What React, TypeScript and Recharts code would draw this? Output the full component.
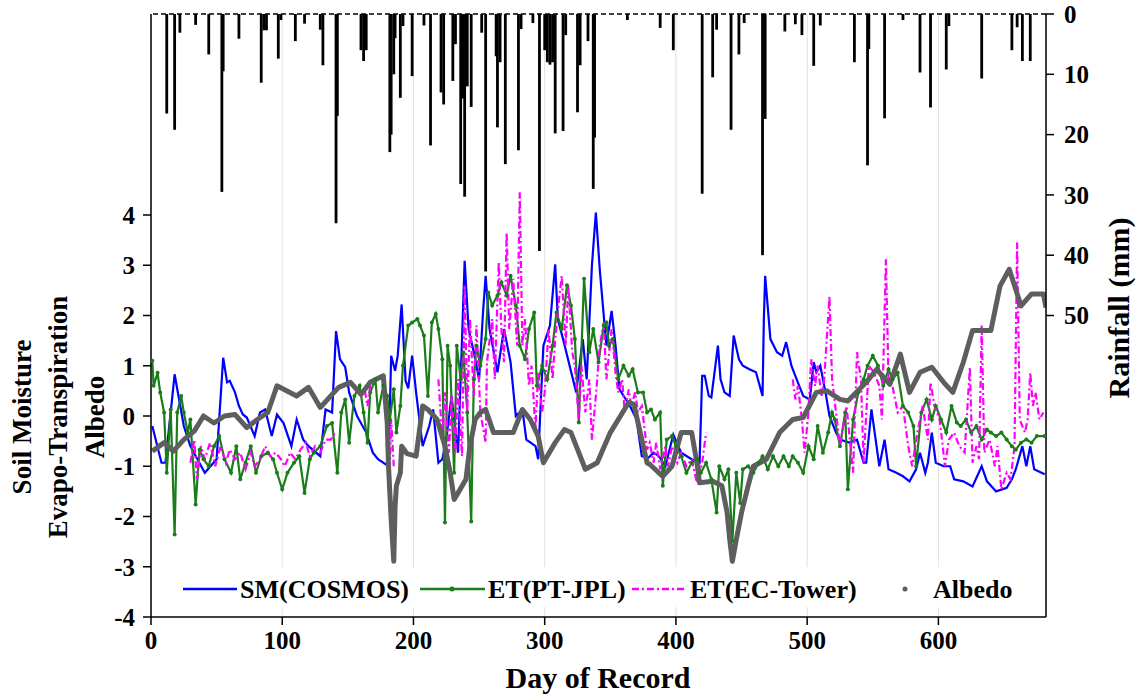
import { ComposedChart, Line, Scatter, XAxis, YAxis, CartesianGrid, ReferenceLine, Legend } from 'recharts';

const SERIF = "'Liberation Serif', 'Times New Roman', serif";
const PLOT_TOP = 14;

// daily rainfall events, [day, mm]
const rainfall: [number, number][] = [
  [12, 16.5], [18, 19.2], [22, 3.1], [34, 1.8], [44, 6.7], [54, 29.5], [55, 9.5], [67, 4.1], [84, 11.4], [86, 2.7],
  [88, 2.7], [97, 7.4], [99, 1], [110, 4.5], [117, 1.6], [129, 2.6], [131, 8.5], [141, 34.7], [142, 16.9], [160, 6],
  [162, 7.8], [164, 6], [182, 22.9], [183, 20], [185, 10], [186, 4], [190, 13.9], [192, 2], [199, 10.3], [208, 1.9],
  [213, 21.8], [221, 13], [223, 15], [230, 11.1], [232, 5], [236, 28.2], [237, 12], [238, 14], [239, 30.3], [241, 12],
  [244, 15.4], [252, 3.1], [255, 42.7], [263, 7], [264, 18.8], [266, 8], [270, 24.9], [280, 22.6], [282, 2.5], [291, 1.5],
  [296, 39.3], [300, 6], [302, 8], [304, 8.4], [306, 8], [308, 19.8], [314, 19.4], [316, 3.5], [325, 16.3], [327, 8.5],
  [333, 4.5], [337, 29], [338, 20.5], [363, 1], [388, 2.3], [398, 6], [420, 29.8], [428, 10.5], [431, 2.6], [442, 19.2],
  [448, 6.7], [452, 1.5], [466, 40], [468, 17.4], [483, 2.9], [491, 1.7], [496, 3.5], [505, 8.6], [510, 1.9], [536, 8],
  [546, 25.1], [547, 5.8], [559, 17.3], [573, 1], [586, 9.7], [594, 15.5], [606, 9.2], [608, 2], [633, 10.7], [656, 6],
  [660, 2.2], [664, 7.8], [670, 7.8],
];

// SM(COSMOS), [day, value]
const smCosmos: [number, number][] = [
  [1, -0.2], [8, -0.93], [11, -0.93], [18, 0.83], [25, -0.2], [30, -0.6], [41, -1.13], [50, -0.86], [55, 1.16], [58, 0.67],
  [60, 0.7], [64, 0.47], [67, 0.2], [70, 0.03], [73, -0.03], [79, -0.4], [83, 0.07], [87, 0.13], [92, -0.4], [96, 0.03],
  [101, -0.14], [107, -0.6], [111, -0.07], [116, -0.47], [120, -0.6], [129, -0.8], [133, 0.13], [138, 0.07], [141, 1.69], [144, 1.13],
  [148, 0.97], [151, 0.47], [157, 0], [164, -0.33], [169, -0.73], [173, -0.86], [181, -1.0], [183, 1.2], [186, 0.9], [188, 1.2],
  [191, 2.22], [194, 0.7], [196, 0.55], [199, 1.2], [202, 0.47], [207, -0.6], [212, -0.2], [215, 0.13], [219, -0.93], [222, -0.86],
  [225, -0.47], [229, 0.4], [234, -0.73], [237, 1.53], [239, 3.09], [242, 1.73], [246, 1.27], [250, 0.73], [253, 2.06], [255, 2.79],
  [258, 1.73], [264, 0.87], [269, 1.73], [274, 1.07], [278, 0], [283, 0.13], [286, -0.47], [293, -0.6], [295, -0.86], [299, 1.4],
  [304, 1.8], [308, 3.02], [310, 1.93], [314, 1.53], [319, 1.0], [324, 0.47], [329, 1.53], [332, 0.73], [336, 3.0], [339, 4.05],
  [342, 2.9], [347, 1.4], [351, 2.09], [354, 1.4], [357, 0.53], [365, 0.2], [370, -0.07], [374, -0.8], [379, -0.83], [383, -0.73],
  [387, -0.8], [392, -1.0], [398, -0.37], [404, -0.73], [412, -0.86], [418, -0.93], [420, 0.8], [422, 0.8], [425, 0.4], [427, 0.37],
  [432, 1.4], [434, 0.73], [437, 0.47], [441, 0.4], [444, 1.6], [448, 1.13], [451, 1.0], [456, 0.93], [461, 0.87], [466, 0.4],
  [467, 1.93], [468, 2.79], [472, 1.53], [477, 1.27], [481, 1.2], [484, 1.47], [488, 1.0], [492, 0.73], [497, 0.4], [502, 0.33],
  [505, 1.07], [507, 0.87], [510, 1.0], [514, 0.47], [517, 0], [522, -0.33], [525, -0.47], [532, -0.53], [538, -0.47], [543, -0.93],
  [545, -0.93], [549, 0.13], [555, -1.0], [559, -0.47], [562, -1.06], [568, -1.13], [573, -1.2], [578, -1.3], [583, -1.06], [586, -0.73],
  [590, -1.13], [592, -0.93], [595, -0.33], [598, -0.93], [604, -1.0], [609, -1.0], [612, -1.26], [619, -1.3], [626, -1.4], [633, -1.0],
  [637, -1.3], [644, -1.5], [652, -1.43], [656, -1.26], [659, -1.06], [664, -0.6], [667, -1.0], [670, -0.6], [673, -1.06], [681, -1.16],
];

// ET(PT-JPL), [day, value]
const etPtJpl: [number, number][] = [
  [1, 1.1], [2, 0.6], [5, 0.86], [7, 0.47], [10, 0.07], [12, -1.13], [15, 0.13], [18, -2.36], [20, 0.07], [23, 0.4],
  [25, 0.07], [28, -0.33], [30, -0.07], [34, -1.76], [37, -0.67], [40, -0.86], [44, -1.0], [48, -0.6], [52, -0.4], [56, -0.86],
  [61, -1.13], [65, -0.6], [68, -1.26], [72, -0.93], [76, -0.6], [80, -1.13], [84, -0.8], [89, -0.73], [93, -0.86], [96, -1.13],
  [100, -1.46], [104, -1.13], [109, -0.93], [113, -0.8], [117, -1.53], [121, -0.86], [124, -0.73], [129, -0.6], [134, -0.2], [138, -0.14],
  [142, -1.13], [145, 0.07], [148, 0.33], [151, -0.53], [155, 0.4], [159, 0.6], [162, 0.07], [165, -0.53], [167, 0.47], [171, 0.73],
  [173, 0.07], [177, 0.6], [180, 0.4], [182, -0.07], [185, 0.53], [187, -0.33], [190, 0.2], [192, 1.0], [196, 1.8], [199, 1.86],
  [203, 1.93], [205, 1.8], [208, 1.6], [211, 0.4], [214, 1.86], [217, 2.03], [219, 1.73], [222, 1.13], [224, -2.12], [226, 1.4],
  [228, 1.0], [231, -1.13], [233, 1.4], [236, 0.73], [238, 1.27], [241, 0.07], [244, -2.1], [246, 0.73], [248, 1.4], [251, 1.0],
  [255, 1.53], [257, 2.46], [260, 2.2], [264, 2.4], [267, 2.66], [271, 2.4], [274, 2.79], [278, 2.2], [281, 1.4], [285, 1.13],
  [288, 1.73], [292, 2.06], [294, 0.6], [298, 1.0], [302, 0.73], [306, 1.4], [309, 2.06], [313, 1.73], [317, 2.6], [320, 2.2],
  [323, 1.53], [326, -0.13], [330, 2.73], [334, 1.27], [337, 1.73], [341, 1.07], [345, 1.8], [347, 1.86], [349, 1.4], [352, 1.53],
  [356, 0.73], [360, 1.0], [364, 0.8], [367, 0.93], [371, 0.47], [375, 0.47], [378, 0.07], [381, 0.13], [384, -0.07], [388, 0.07],
  [390, -1.39], [393, -0.47], [397, -0.4], [400, -0.6], [404, -0.8], [408, -1.13], [412, -0.93], [416, -0.86], [419, -1.13], [423, -0.93],
  [427, -1.26], [431, -1.92], [433, -1.0], [437, -1.26], [440, -1.06], [443, -2.49], [446, -1.13], [449, -1.73], [451, -1.06], [455, -1.0],
  [459, -1.13], [463, -0.93], [466, -0.8], [470, -1.06], [474, -0.8], [478, -1.0], [482, -0.8], [486, -1.0], [489, -0.8], [493, -0.93],
  [497, -1.13], [501, -0.6], [505, -0.86], [508, -0.2], [512, -0.73], [516, -0.33], [519, 0.07], [521, -0.07], [525, -0.6], [529, 0.07],
  [531, -1.46], [535, -0.07], [539, 0.47], [543, 0.73], [546, 1.0], [550, 1.2], [554, 1.0], [558, 0.6], [562, 0.93], [565, 0.73],
  [569, 0.86], [573, 0.2], [577, 0.07], [581, -0.2], [583, -1.0], [587, 0.07], [591, 0.33], [595, -0.07], [598, 0.2], [602, -0.07],
  [606, -0.33], [610, 0.2], [614, -0.13], [617, -0.2], [621, -0.07], [625, -0.33], [629, -0.2], [633, -0.47], [637, -0.27], [640, -0.33],
  [644, -0.4], [648, -0.33], [652, -0.47], [656, -0.6], [659, -0.67], [663, -0.53], [667, -0.47], [671, -0.53], [675, -0.4], [681, -0.4],
];

// ET(EC-Tower), [day, value]; null marks a gap in the tower record
const etEcTower: [number, number | null][] = [
  [30, -0.93], [33, -0.47], [35, -1.26], [38, -0.6], [41, -0.86], [45, -0.53], [49, -1.0], [53, -0.6], [57, -0.93], [60, -0.67],
  [64, -0.86], [68, -0.73], [72, -1.06], [76, -0.73], [79, -1.0], [83, -0.86], [87, -0.6], [91, -0.8], [95, -0.73], [99, -0.86],
  [102, -1.0], [106, -0.73], [110, -0.86], [114, -0.67], [118, -0.53], [121, -0.8], [125, -0.6], [129, -0.73], [133, -0.47], [137, -0.47],
  [140, -0.33], [141, null], [163, 0.5], [165, 0.2], [167, 0.6], [168, null], [182, -1.06], [183, -0.07], [185, -1.0], [186, null],
  [219, 0.73], [222, -0.47], [224, 0.47], [227, -0.73], [229, 0.4], [232, -0.73], [234, 0.73], [237, -0.8], [239, 2.59], [241, 0.07],
  [243, 1.93], [246, 0.4], [248, 1.8], [251, 0.07], [255, -0.53], [256, 1.07], [260, 1.93], [262, 0.73], [265, 3.06], [267, 1.73],
  [269, 1.07], [271, 3.65], [273, 1.73], [276, 2.73], [279, 1.4], [281, 4.45], [283, 1.4], [285, 1.93], [288, 0.6], [290, 1.0],
  [293, -0.27], [295, 0.86], [298, 0.07], [300, 0.47], [303, 1.73], [306, 0.73], [308, 1.53], [311, 2.33], [313, 2.79], [316, 1.4],
  [318, 2.6], [321, 1.27], [323, 1.0], [326, -0.07], [328, 1.0], [331, 0.07], [334, 0.73], [336, -0.47], [339, 0.4], [342, 1.4],
  [345, 1.86], [347, 0.73], [351, 1.73], [354, 0.86], [356, 0.47], [359, 0.73], [361, 0.07], [364, 0.53], [366, 0.2], [369, 0.47],
  [371, 0.07], [374, 0.2], [378, -0.67], [380, -0.53], [383, -0.93], [385, -0.53], [388, -1.06], [392, -0.6], [394, -1.0], [397, -0.6],
  [401, -0.93], [404, -0.73], [408, -1.0], [412, -0.86], [416, -1.33], [420, -0.93], [423, -0.33], [424, null], [489, 0.73], [491, 0.33],
  [493, 0.6], [496, -0.07], [498, -0.73], [501, 0.07], [503, 1.13], [506, 0.6], [508, 1.0], [511, 0.4], [513, 0.73], [517, 2.38],
  [519, 0.73], [522, 0.07], [525, -0.6], [530, 0.2], [535, -1.13], [538, 1.27], [541, 0.73], [543, -0.93], [547, 1.0], [551, 0.86],
  [555, 0.6], [557, -0.07], [560, 3.12], [562, 0.73], [565, 0.6], [569, 0.07], [573, 0.2], [577, -0.6], [580, -1.0], [584, -0.33],
  [588, 0.2], [592, -0.47], [594, 0.67], [597, 0.2], [601, -0.07], [605, -1.0], [608, -0.47], [612, -0.33], [616, -0.6], [620, -0.73],
  [624, 0.97], [626, -0.93], [629, -0.6], [631, -0.86], [633, 1.8], [635, -0.73], [639, -0.47], [643, -1.0], [645, -0.6], [648, -1.46],
  [652, -1.13], [655, -1.26], [658, -0.6], [660, 3.45], [662, -0.07], [666, -0.33], [668, -0.07], [670, 0.86], [672, 0.2], [674, 0.47],
  [677, -0.07], [680, 0.07],
];

// Albedo, [day, value]
const albedo: [number, number][] = [
  [1, -0.7], [10, -0.53], [17, -0.7], [25, -0.47], [33, -0.3], [40, 0], [48, -0.14], [56, 0], [64, 0.03], [73, -0.23],
  [81, -0.07], [89, 0.07], [96, 0.6], [111, 0.4], [120, 0.57], [129, 0.17], [137, 0.4], [143, 0.57], [152, 0.67], [160, 0.43],
  [167, 0.67], [177, 0.8], [180, -0.14], [181, -1.0], [182, -1.53], [183, -2.06], [185, -2.89], [186, -1.8], [187, -1.39], [190, -1.13],
  [191, -0.6], [195, -0.75], [202, -0.8], [207, 0.2], [211, 0.13], [218, -0.07], [224, -0.6], [228, -1.13], [231, -1.66], [234, -1.53],
  [240, -1.26], [243, -0.6], [247, -0.07], [251, 0.07], [255, 0.13], [261, -0.33], [276, -0.33], [283, 0.13], [289, -0.07], [295, -0.4],
  [299, -0.93], [308, -0.53], [315, -0.27], [320, -0.33], [326, -0.73], [331, -1.06], [340, -0.93], [350, -0.33], [364, 0.27], [368, 0.23],
  [378, -0.93], [380, -0.96], [390, -1.2], [397, -1.0], [404, -0.33], [412, -0.33], [416, -0.93], [418, -1.33], [428, -1.3], [435, -1.39],
  [439, -1.92], [441, -2.46], [443, -2.89], [446, -2.46], [450, -1.92], [455, -1.39], [459, -1.0], [469, -0.86], [479, -0.33], [489, -0.07],
  [497, -0.03], [507, 0.47], [515, 0.5], [525, 0.33], [531, 0.3], [545, 0.67], [553, 0.93], [563, 0.63], [571, 1.23], [578, 0.47],
  [586, 0.87], [595, 0.97], [604, 0.67], [611, 0.47], [619, 1.07], [626, 1.7], [640, 1.7], [647, 2.59], [654, 2.92], [663, 2.19],
  [671, 2.43], [680, 2.43], [682, 2.16],
];

const dayTicks = [0, 100, 200, 300, 400, 500, 600];
const valueTicks = [-4, -3, -2, -1, 0, 1, 2, 3, 4];
const rainTicks = [0, 10, 20, 30, 40, 50];

const rows = (pts: [number, number | null][]) => pts.map(([day, v]) => ({ day, v }));
const rainRows = rainfall.map(([day, mm]) => ({ day, mm }));

const tickFont = { fontFamily: SERIF, fontWeight: 'bold', fontSize: 25, fill: '#000' };

// rainfall hangs down from the top of the plot
const RainBar = (props: any) => {
  const { cx, cy } = props;
  if (cx == null || cy == null) return <g />;
  return <rect x={cx - 1.4} y={PLOT_TOP} width={2.8} height={Math.max(cy - PLOT_TOP, 1)} fill="#000" />;
};

const LeftTitle = () => (
  <g fontFamily={SERIF} fontWeight="bold" fontSize={27} fill="#000" textAnchor="middle">
    <text transform="translate(31,417) rotate(-90)">Soil Moisture</text>
    <text transform="translate(67,417) rotate(-90)">Evapo-Transpiration</text>
    <text transform="translate(104,417) rotate(-90)">Albedo</text>
  </g>
);

const RightTitle = () => (
  <text transform="translate(1129,308) rotate(-90)" textAnchor="middle" fontFamily={SERIF} fontWeight="bold" fontSize={30} fill="#000">
    Rainfall (mm)
  </text>
);

const BottomTitle = () => (
  <text x={598} y={688} textAnchor="middle" fontFamily={SERIF} fontWeight="bold" fontSize={30} fill="#000">
    Day of Record
  </text>
);

const LegendBox = () => (
  <svg width={860} height={40} style={{ display: 'block', background: '#fff' }}>
    <g fontFamily={SERIF} fontWeight="bold" fontSize={26} fill="#000">
      <line x1={8} x2={62} y1={22} y2={22} stroke="#0000ff" strokeWidth={2.5} />
      <text x={65} y={31}>SM(COSMOS)</text>
      <line x1={245} x2={310} y1={22} y2={22} stroke="#1a7d1a" strokeWidth={2.5} />
      <circle cx={277} cy={22} r={2.5} fill="#1a7d1a" />
      <text x={313} y={31}>ET(PT-JPL)</text>
      <line x1={457} x2={512} y1={22} y2={22} stroke="#ff00ff" strokeWidth={2.5} strokeDasharray="7 3 2 3" />
      <text x={515} y={31}>ET(EC-Tower)</text>
      <circle cx={730} cy={22} r={2.5} fill="#5e5e5e" />
      <text x={758} y={31}>Albedo</text>
    </g>
  </svg>
);

export default function App() {
  return (
    <div style={{ position: 'absolute', left: 0, top: 0, width: 1139, height: 697, background: '#fff' }}>
      <ComposedChart width={1139} height={697} margin={{ top: 14, right: 0, bottom: 0, left: 0 }}>
        <CartesianGrid horizontal={false} stroke="#e6dede" yAxisId="left" />
        <XAxis
          dataKey="day"
          type="number"
          domain={[0, 682]}
          ticks={dayTicks}
          allowDataOverflow
          height={80}
          tick={tickFont}
          tickSize={8}
          tickMargin={6}
          axisLine={{ stroke: '#000', strokeWidth: 1.5 }}
          tickLine={{ stroke: '#000', strokeWidth: 1.5 }}
          label={<BottomTitle />}
        />
        <YAxis
          yAxisId="left"
          orientation="left"
          type="number"
          domain={[-4, 8]}
          ticks={valueTicks}
          allowDataOverflow
          width={151}
          tick={tickFont}
          tickSize={8}
          tickMargin={8}
          axisLine={{ stroke: '#000', strokeWidth: 1.5 }}
          tickLine={{ stroke: '#000', strokeWidth: 1.5 }}
          label={<LeftTitle />}
        />
        <YAxis
          yAxisId="rain"
          orientation="right"
          type="number"
          domain={[0, 100]}
          reversed
          ticks={rainTicks}
          allowDataOverflow
          width={93}
          tick={{ ...tickFont, textAnchor: 'start' }}
          tickSize={8}
          tickMargin={10}
          axisLine={{ stroke: '#000', strokeWidth: 1.5 }}
          tickLine={{ stroke: '#000', strokeWidth: 1.5 }}
          label={<RightTitle />}
        />
        <ReferenceLine yAxisId="rain" y={0} stroke="#000" strokeWidth={1.5} strokeDasharray="5 3" />
        <Scatter yAxisId="rain" data={rainRows} dataKey="mm" shape={RainBar} isAnimationActive={false} />
        <Line yAxisId="left" data={rows(smCosmos)} dataKey="v" type="linear" stroke="#0000ff" strokeWidth={2.2} dot={false} isAnimationActive={false} />
        <Line
          yAxisId="left"
          data={rows(etPtJpl)}
          dataKey="v"
          type="linear"
          stroke="#1a7d1a"
          strokeWidth={2.2}
          dot={{ r: 2, fill: '#1a7d1a', stroke: '#1a7d1a', strokeWidth: 0 }}
          isAnimationActive={false}
        />
        <Line
          yAxisId="left"
          data={rows(etEcTower)}
          dataKey="v"
          type="linear"
          stroke="#ff00ff"
          strokeWidth={2.2}
          strokeDasharray="7 3 2 3"
          dot={false}
          connectNulls={false}
          isAnimationActive={false}
        />
        <Line yAxisId="left" data={rows(albedo)} dataKey="v" type="linear" stroke="#5e5e5e" strokeWidth={5} strokeLinejoin="round" dot={false} isAnimationActive={false} />
        <Legend
          layout="horizontal"
          verticalAlign="middle"
          align="center"
          content={<LegendBox />}
          wrapperStyle={{ position: 'absolute', left: 175, top: 567, width: 860, height: 40 }}
        />
      </ComposedChart>
    </div>
  );
}
